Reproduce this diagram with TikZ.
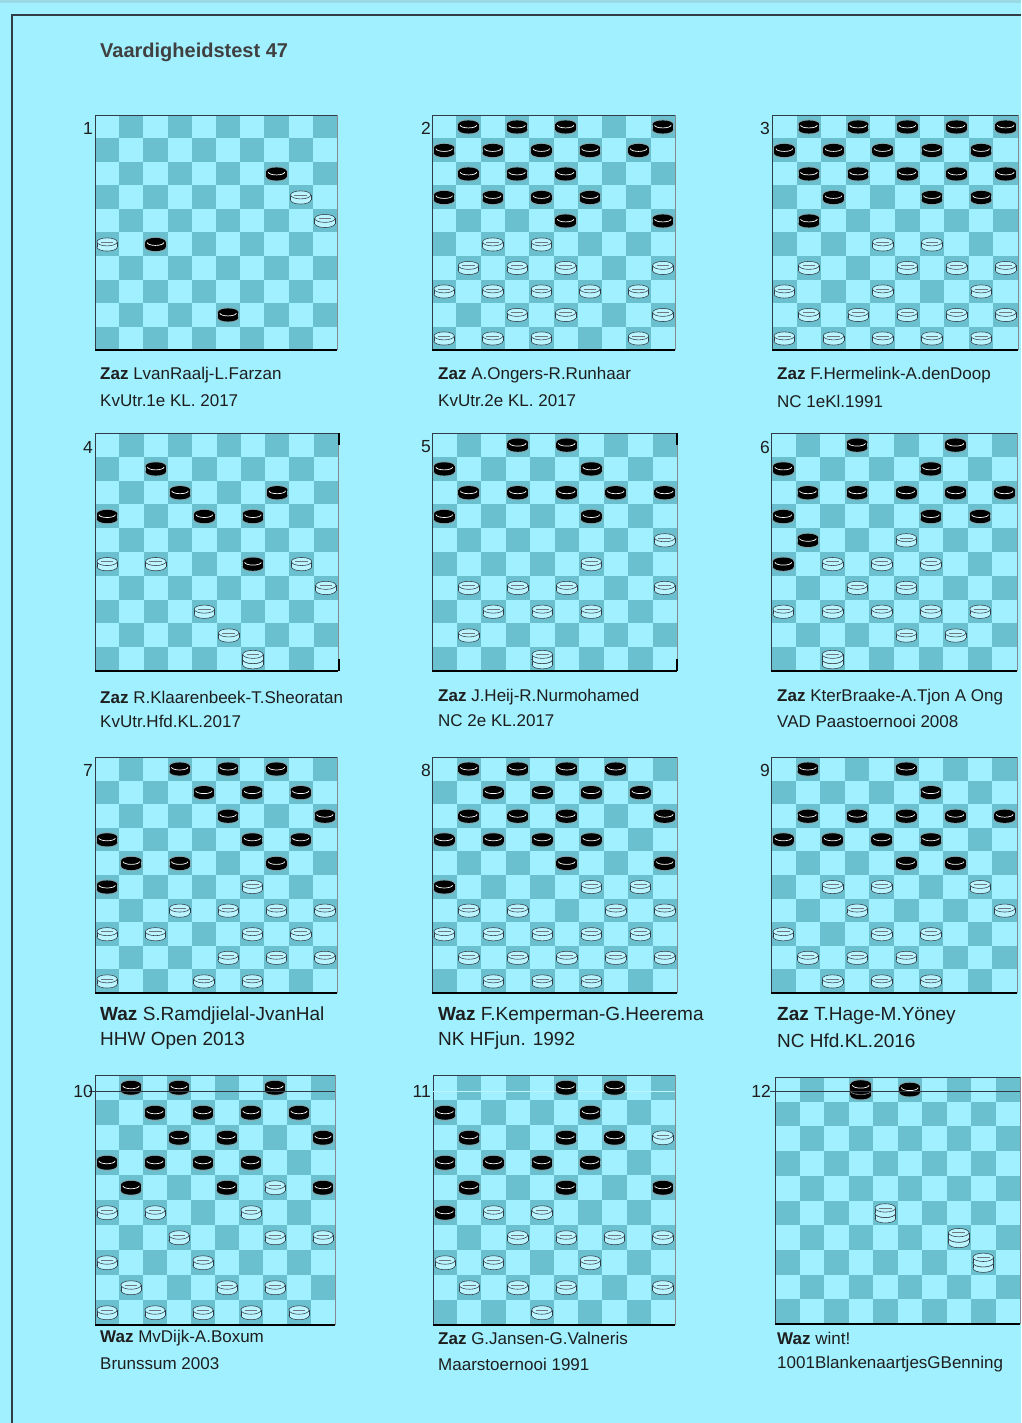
\documentclass[tikz,border=0pt]{standalone}
\usepackage{fontspec}
\setmainfont{Liberation Sans}
\definecolor{bg}{RGB}{160,240,255}
\definecolor{dsq}{RGB}{106,192,206}
\definecolor{wpc}{RGB}{186,244,255}
\definecolor{edgec}{RGB}{50,60,70}
\definecolor{txt}{RGB}{30,30,30}
\newcommand\myblackman[1]{%
  \begin{scope}[shift={(0,#1)}]
    \draw[edgec!50,line width=0.5pt] (-0.45,-0.1) -- (-0.45,0.12) arc (180:0:0.45 and 0.2) -- (0.45,-0.1) arc (0:-180:0.45 and 0.2);
    \fill[black] (0,0.12) ellipse (0.42 and 0.17);
    \fill[black] (-0.42,-0.1) rectangle (0.42,0.12);
    \fill[black] (0,-0.1) ellipse (0.42 and 0.17);
    \draw[white,line width=0.7pt] (-0.34,-0.07) arc (180:0:0.34 and 0.12);
  \end{scope}}
\newcommand\mywhiteman[1]{%
  \begin{scope}[shift={(0,#1)}]
    \filldraw[fill=wpc,draw=edgec,line width=0.55pt] (0,0.12) ellipse (0.42 and 0.17);
    \fill[wpc] (-0.42,-0.1) rectangle (0.42,0.12);
    \draw[edgec,line width=0.55pt] (-0.42,-0.1) -- (-0.42,0.12) (0.42,-0.1) -- (0.42,0.12);
    \filldraw[fill=wpc,draw=edgec,line width=0.55pt] (0,-0.1) ellipse (0.42 and 0.17);
    \draw[edgec!70,line width=0.4pt] (-0.26,-0.1) -- (0.26,-0.1);
  \end{scope}}
\newcommand\boardbase{%
  \fill[bg] (0,0) rectangle (10,10);
  \foreach \r in {0,...,9}{\foreach \c in {0,2,...,8}{%
    \pgfmathtruncatemacro\cc{\c+1-mod(\r,2)}%
    \fill[dsq] (\cc,\r) rectangle ++(1,1);}}
  \draw[edgec,line width=0.8pt] (10,0) -- (0,0) -- (0,10);
  \draw[black,line width=2pt] (0,10) -- (10,10);
  \draw[edgec!60,line width=0.6pt] (10,0) -- (10,10);
}
\tikzset{
  bman/.pic={\myblackman{0}},
  wman/.pic={\mywhiteman{0}},
  bking/.pic={\myblackman{0.12}\myblackman{-0.1}},
  wking/.pic={\mywhiteman{0.12}\mywhiteman{-0.1}},
  blabel/.style={anchor=east,inner sep=0pt,text=txt,font=\fontsize{17.5}{19}\selectfont},
  capA/.style={anchor=west,inner sep=0pt,text=txt,font=\fontsize{17}{19}\selectfont},
  capB/.style={anchor=west,inner sep=0pt,text=txt,font=\fontsize{19}{21}\selectfont},
  capC/.style={anchor=west,inner sep=0pt,text=txt,font=\fontsize{17}{19}\selectfont},
  rowline/.style={edgec,line width=0.7pt},
}
\begin{document}
\begin{tikzpicture}[x=1pt,y=-1pt]
\useasboundingbox (0,0) rectangle (1021,1423);
\fill[bg] (0,0) rectangle (1021,1423);
\fill[bg!80!gray] (0,0) rectangle (1021,3);
\draw[edgec,line width=1.2pt] (12,1423) -- (12,15) -- (1021,15);

\node[anchor=west,inner sep=0pt,text=txt!85,font=\bfseries\fontsize{20}{22}\selectfont] (title) at (100,52) {Vaardigheidstest 47};

% ---------- Board 1
\begin{scope}[shift={(95,115)},x=24.2pt,y=-23.5pt]
  \boardbase
  \foreach \r/\c in {2/7,5/2,8/5} \pic at (\c+.5,\r+.5) {bman};
  \foreach \r/\c in {3/8,4/9,5/0} \pic at (\c+.5,\r+.5) {wman};
\end{scope}
% ---------- Board 2
\begin{scope}[shift={(432,115)},x=24.3pt,y=-23.5pt]
  \boardbase
  \foreach \r/\c in {0/1,0/3,0/5,0/9,1/0,1/2,1/4,1/6,1/8,2/1,2/3,2/5,3/0,3/2,3/4,3/6,4/5,4/9} \pic at (\c+.5,\r+.5) {bman};
  \foreach \r/\c in {5/2,5/4,6/1,6/3,6/5,6/9,7/0,7/2,7/4,7/6,7/8,8/3,8/5,8/9,9/0,9/2,9/4,9/8} \pic at (\c+.5,\r+.5) {wman};
\end{scope}
% ---------- Board 3
\begin{scope}[shift={(772,115)},x=24.6pt,y=-23.5pt]
  \boardbase
  \foreach \r/\c in {0/1,0/3,0/5,0/7,0/9,1/0,1/2,1/4,1/6,1/8,2/1,2/3,2/5,2/7,2/9,3/2,3/6,3/8,4/1} \pic at (\c+.5,\r+.5) {bman};
  \foreach \r/\c in {5/4,5/6,6/1,6/5,6/7,6/9,7/0,7/4,7/8,8/1,8/3,8/5,8/7,8/9,9/0,9/2,9/4,9/6,9/8} \pic at (\c+.5,\r+.5) {wman};
\end{scope}
% ---------- Board 4
\begin{scope}[shift={(95,433)},x=24.3pt,y=-23.8pt]
  \boardbase
  \foreach \r/\c in {1/2,2/3,2/7,3/0,3/4,3/6,5/6} \pic at (\c+.5,\r+.5) {bman};
  \foreach \r/\c in {5/0,5/2,5/8,6/9,7/4,8/5} \pic at (\c+.5,\r+.5) {wman};
  \pic at (6.5,9.5) {wking};
\end{scope}
% ---------- Board 5
\begin{scope}[shift={(432,433)},x=24.5pt,y=-23.8pt]
  \boardbase
  \foreach \r/\c in {0/3,0/5,1/0,1/6,2/1,2/3,2/5,2/7,2/9,3/0,3/6} \pic at (\c+.5,\r+.5) {bman};
  \foreach \r/\c in {4/9,5/6,6/1,6/3,6/5,6/9,7/2,7/4,7/6,8/1} \pic at (\c+.5,\r+.5) {wman};
  \pic at (4.5,9.5) {wking};
\end{scope}
% ---------- Board 6
\begin{scope}[shift={(771,433)},x=24.6pt,y=-23.8pt]
  \boardbase
  \foreach \r/\c in {0/3,0/7,1/0,1/6,2/1,2/3,2/5,2/7,2/9,3/0,3/6,3/8,4/1,5/0} \pic at (\c+.5,\r+.5) {bman};
  \foreach \r/\c in {4/5,5/2,5/4,5/6,6/3,6/5,7/0,7/2,7/4,7/6,7/8,8/5,8/7} \pic at (\c+.5,\r+.5) {wman};
  \pic at (2.5,9.5) {wking};
\end{scope}
% ---------- Board 7
\begin{scope}[shift={(95,757)},x=24.2pt,y=-23.6pt]
  \boardbase
  \foreach \r/\c in {0/3,0/5,0/7,1/4,1/6,1/8,2/5,2/9,3/0,3/6,3/8,4/1,4/3,4/7,5/0} \pic at (\c+.5,\r+.5) {bman};
  \foreach \r/\c in {5/6,6/3,6/5,6/7,6/9,7/0,7/2,7/6,7/8,8/5,8/7,8/9,9/0,9/4,9/6} \pic at (\c+.5,\r+.5) {wman};
\end{scope}
% ---------- Board 8
\begin{scope}[shift={(432,757)},x=24.5pt,y=-23.6pt]
  \boardbase
  \foreach \r/\c in {0/1,0/3,0/5,0/7,1/2,1/4,1/6,1/8,2/1,2/3,2/5,2/9,3/0,3/2,3/4,3/6,4/5,4/9,5/0} \pic at (\c+.5,\r+.5) {bman};
  \foreach \r/\c in {5/6,5/8,6/1,6/3,6/7,6/9,7/0,7/2,7/4,7/6,7/8,8/1,8/3,8/5,8/7,8/9,9/2,9/4,9/6} \pic at (\c+.5,\r+.5) {wman};
\end{scope}
% ---------- Board 9
\begin{scope}[shift={(771,757)},x=24.6pt,y=-23.6pt]
  \boardbase
  \foreach \r/\c in {0/1,0/5,1/6,2/1,2/3,2/5,2/7,2/9,3/0,3/2,3/4,3/6,4/5,4/7} \pic at (\c+.5,\r+.5) {bman};
  \foreach \r/\c in {5/2,5/4,5/8,6/3,6/9,7/0,7/4,7/6,8/1,8/3,8/5,9/2,9/4,9/6} \pic at (\c+.5,\r+.5) {wman};
\end{scope}
% ---------- Board 10
\begin{scope}[shift={(95,1075)},x=24pt,y=-25pt]
  \boardbase
  \foreach \r/\c in {0/1,0/3,0/7,1/2,1/4,1/6,1/8,2/3,2/5,2/9,3/0,3/2,3/4,3/6,4/1,4/5,4/9} \pic at (\c+.5,\r+.5) {bman};
  \foreach \r/\c in {4/7,5/0,5/2,5/6,6/3,6/7,6/9,7/0,7/4,8/1,8/5,8/7,9/0,9/2,9/4,9/6,9/8} \pic at (\c+.5,\r+.5) {wman};
\end{scope}
% ---------- Board 11
\begin{scope}[shift={(433,1075)},x=24.2pt,y=-25pt]
  \boardbase
  \draw[bg!70!white,line width=0.9pt] (0,0.65) -- (10,0.65);
  \foreach \r/\c in {0/5,0/7,1/0,1/6,2/1,2/5,2/7,3/0,3/2,3/4,3/6,4/1,4/5,4/9,5/0} \pic at (\c+.5,\r+.5) {bman};
  \foreach \r/\c in {2/9,5/2,5/4,6/3,6/5,6/7,6/9,7/0,7/2,7/6,8/1,8/3,8/5,8/9,9/4} \pic at (\c+.5,\r+.5) {wman};
\end{scope}
% ---------- Board 12
\begin{scope}[shift={(775,1077)},x=24.5pt,y=-24.7pt]
  \boardbase
  \pic at (3.5,0.5) {bking};
  \pic at (5.5,0.5) {bman};
  \foreach \r/\c in {5/4,6/7,7/8} \pic at (\c+.5,\r+.5) {wking};
\end{scope}

% extra lines
\draw[rowline] (89,1091) -- (335,1091);
\draw[rowline] (770,1091) -- (1020,1091);
\draw[black,line width=1.5pt] (339,433) -- (339,445) (339,659) -- (339,671);
\draw[black,line width=1.8pt] (677,433) -- (677,445) (677,659) -- (677,671);

% labels
\node[blabel] (l1) at (93,128) {1};
\node[blabel] (l2) at (431,128) {2};
\node[blabel] (l3) at (770,128) {3};
\node[blabel] (l4) at (93,447) {4};
\node[blabel] (l5) at (431,447) {5};
\node[blabel] (l6) at (770,447) {6};
\node[blabel] (l7) at (93,770) {7};
\node[blabel] (l8) at (431,770) {8};
\node[blabel] (l9) at (770,770) {9};
\node[blabel] (l10) at (93,1091) {10};
\node[blabel] (l11) at (431,1091) {11};
\node[blabel] (l12) at (771,1091) {12};

% captions
\node[capA] (c1a) at (100,375) {\textbf{Zaz} LvanRaalj-L.Farzan};
\node[capA] (c1b) at (100,401) {KvUtr.1e KL. 2017};
\node[capA] (c2a) at (438,375) {\textbf{Zaz} A.Ongers-R.Runhaar};
\node[capA] (c2b) at (438,401) {KvUtr.2e KL. 2017};
\node[capA] (c3a) at (777,375) {\textbf{Zaz} F.Hermelink-A.denDoop};
\node[capA] (c3b) at (777,401) {NC 1eKl.1991};
\node[capA] (c4a) at (100,697) {\textbf{Zaz} R.Klaarenbeek-T.Sheoratan};
\node[capA] (c4b) at (100,721) {KvUtr.Hfd.KL.2017};
\node[capA] (c5a) at (438,697) {\textbf{Zaz} J.Heij-R.Nurmohamed};
\node[capA] (c5b) at (438,721) {NC 2e KL.2017};
\node[capA] (c6a) at (777,697) {\textbf{Zaz} KterBraake-A.Tjon A Ong};
\node[capA] (c6b) at (777,721) {VAD Paastoernooi 2008};
\node[capB] (c7a) at (100,1016) {\textbf{Waz} S.Ramdjielal-JvanHal};
\node[capB] (c7b) at (100,1041) {HHW Open 2013};
\node[capB] (c8a) at (438,1016) {\textbf{Waz} F.Kemperman-G.Heerema};
\node[capB] (c8b) at (438,1041) {NK HFjun. 1992};
\node[capB] (c9a) at (777,1016) {\textbf{Zaz} T.Hage-M.Yöney};
\node[capB] (c9b) at (777,1041) {NC Hfd.KL.2016};
\node[capC] (c10a) at (100,1338) {\textbf{Waz} MvDijk-A.Boxum};
\node[capC] (c10b) at (100,1364) {Brunssum 2003};
\node[capC] (c11a) at (438,1338) {\textbf{Zaz} G.Jansen-G.Valneris};
\node[capC] (c11b) at (438,1364) {Maarstoernooi 1991};
\node[capC] (c12a) at (777,1338) {\textbf{Waz} wint!};
\node[capC] (c12b) at (777,1364) {1001BlankenaartjesGBenning};
\end{tikzpicture}
\end{document}
